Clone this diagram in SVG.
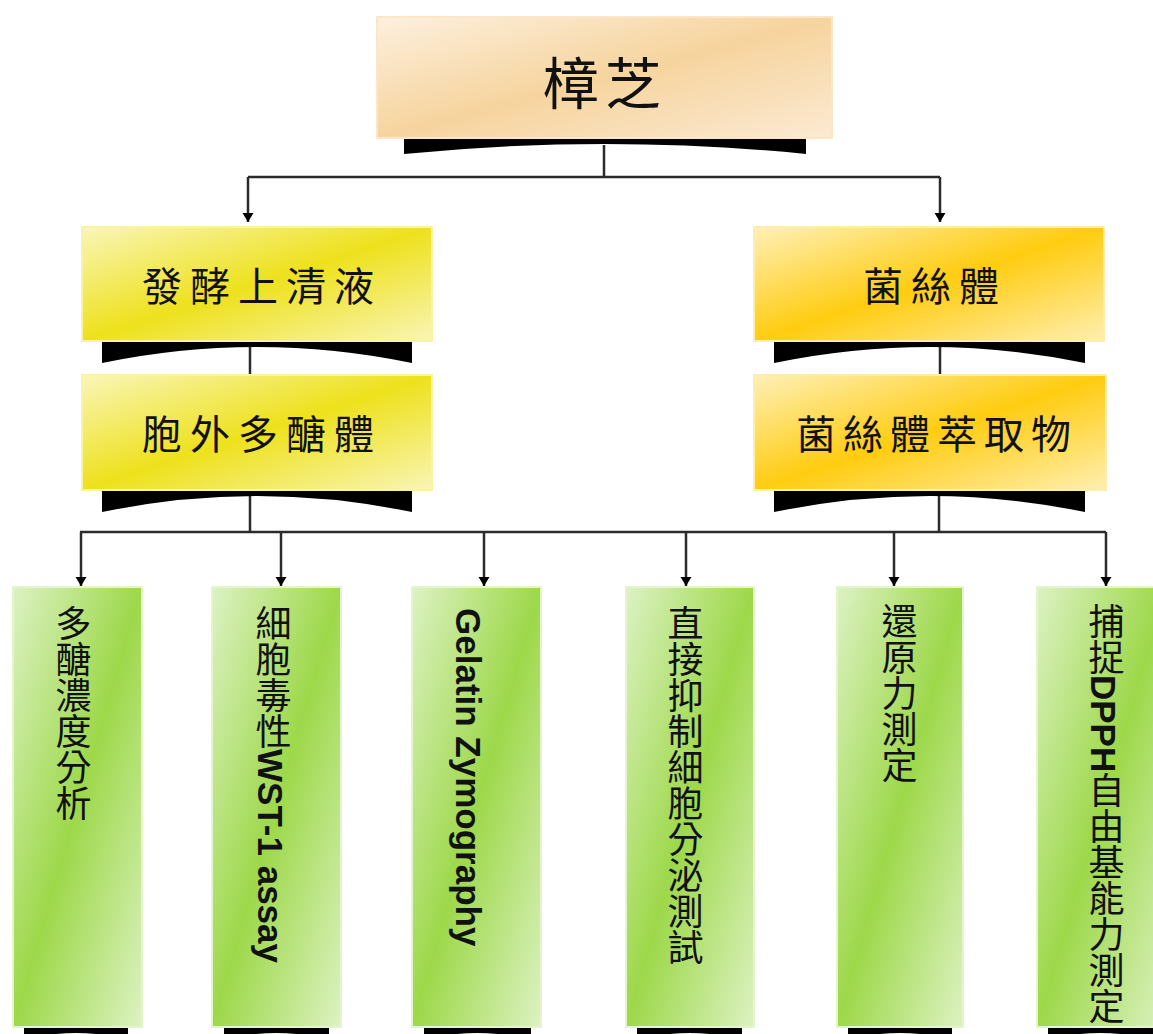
<svg xmlns="http://www.w3.org/2000/svg" width="1153" height="1034" viewBox="0 0 1153 1034">
  <style>
    .conn { fill: none; stroke: #2b2b2b; stroke-width: 2.5; }
    .arr { marker-end: url(#ah); }
    .shadow { fill: #000; }
    .box { stroke-width: 2; }
    .head { font-family: "Noto Sans CJK TC", "Noto Sans CJK SC", sans-serif; fill: #111; text-anchor: middle; dominant-baseline: central; }
    .vt { font-family: "Liberation Sans", "Noto Sans CJK TC", sans-serif; font-size: 36px; fill: #111; writing-mode: vertical-rl; text-orientation: mixed; }
    .lat { font-weight: bold; font-size: 35px; }
  </style>
  <defs>
    <linearGradient id="gPeach" x1="0" y1="0" x2="1" y2="1">
      <stop offset="0" stop-color="#FDF0DE"/>
      <stop offset="0.5" stop-color="#F6D49E"/>
      <stop offset="1" stop-color="#FCEAD2"/>
    </linearGradient>
    <linearGradient id="gYellow" x1="0" y1="0" x2="1" y2="1">
      <stop offset="0" stop-color="#F9F6B8"/>
      <stop offset="0.5" stop-color="#EEE11C"/>
      <stop offset="1" stop-color="#F9F5B4"/>
    </linearGradient>
    <linearGradient id="gOrange" x1="0" y1="0" x2="1" y2="1">
      <stop offset="0" stop-color="#FFF0B8"/>
      <stop offset="0.5" stop-color="#FFCC10"/>
      <stop offset="1" stop-color="#FFEFB0"/>
    </linearGradient>
    <linearGradient id="gGreen" x1="0" y1="0" x2="1" y2="1">
      <stop offset="0" stop-color="#DDF2C4"/>
      <stop offset="0.5" stop-color="#9DD84A"/>
      <stop offset="1" stop-color="#DDF2C2"/>
    </linearGradient>
    <marker id="ah" markerUnits="userSpaceOnUse" markerWidth="12" markerHeight="12" viewBox="0 -6 9 12" refX="9" refY="0" orient="auto">
      <path d="M0,-5.5 L9,0 L0,5.5 Z" fill="#000"/>
    </marker>
  </defs>

  <g id="connectors">
    <path class="conn" d="M604,145 V177 M248,177 H940"/>
    <path class="conn arr" d="M248,177 V222"/>
    <path class="conn arr" d="M940,177 V222"/>
    <path class="conn" d="M250,341 V375"/>
    <path class="conn" d="M940,341 V375"/>
    <path class="conn" d="M250,490 V532 M939,490 V532 M80,532 H1106"/>
    <path class="conn arr" d="M81,532 V586"/>
    <path class="conn arr" d="M281,532 V586"/>
    <path class="conn arr" d="M484,532 V586"/>
    <path class="conn arr" d="M686,532 V586"/>
    <path class="conn arr" d="M894,532 V586"/>
    <path class="conn arr" d="M1106,532 V586"/>
  </g>

  <g id="n-root">
    <path class="shadow" d="M404,138 H806 V154 Q605,134 404,154 Z"/>
    <rect class="box" x="377" y="17" width="455" height="121" fill="url(#gPeach)" stroke="#FBE6CA"/>
    <text class="head" x="605" y="79" font-size="56" letter-spacing="6">樟芝</text>
  </g>

  <g id="n-ferment">
    <path class="shadow" d="M102,341 H412 V363 Q257,331 102,363 Z"/>
    <rect class="box" x="82" y="227" width="350" height="114" fill="url(#gYellow)" stroke="#F8F3A8"/>
    <text class="head" x="262" y="284" font-size="40" letter-spacing="8">發酵上清液</text>
  </g>

  <g id="n-eps">
    <path class="shadow" d="M102,490 H412 V512 Q257,480 102,512 Z"/>
    <rect class="box" x="82" y="375" width="350" height="115" fill="url(#gYellow)" stroke="#F8F3A8"/>
    <text class="head" x="262" y="432" font-size="40" letter-spacing="8">胞外多醣體</text>
  </g>

  <g id="n-mycelium">
    <path class="shadow" d="M774,341 H1085 V363 Q930,331 774,363 Z"/>
    <rect class="box" x="754" y="227" width="350" height="114" fill="url(#gOrange)" stroke="#FFEDB0"/>
    <text class="head" x="935" y="284" font-size="40" letter-spacing="8">菌絲體</text>
  </g>

  <g id="n-extract">
    <path class="shadow" d="M774,490 H1085 V512 Q930,480 774,512 Z"/>
    <rect class="box" x="754" y="375" width="352" height="115" fill="url(#gOrange)" stroke="#FFEDB0"/>
    <text class="head" x="937" y="432" font-size="40" letter-spacing="7">菌絲體萃取物</text>
  </g>

  <g id="n-b1">
    <path class="shadow" d="M24,1027 H128 V1040 Q76,1026 24,1040 Z"/>
    <rect class="box" x="13" y="587" width="129" height="440" fill="url(#gGreen)" stroke="#E4F5CE"/>
    <text class="vt" x="70" y="605">多醣濃度分析</text>
  </g>

  <g id="n-b2">
    <path class="shadow" d="M224,1027 H329 V1040 Q276,1026 224,1040 Z"/>
    <rect class="box" x="212" y="587" width="129" height="440" fill="url(#gGreen)" stroke="#E4F5CE"/>
    <text class="vt" x="270" y="605">細胞毒性<tspan class="lat">WST-1 assay</tspan></text>
  </g>

  <g id="n-b3">
    <path class="shadow" d="M424,1027 H531 V1040 Q477,1026 424,1040 Z"/>
    <rect class="box" x="412" y="587" width="129" height="440" fill="url(#gGreen)" stroke="#E4F5CE"/>
    <text class="vt" x="468" y="608"><tspan class="lat">Gelatin Zymography</tspan></text>
  </g>

  <g id="n-b4">
    <path class="shadow" d="M637,1027 H742 V1040 Q690,1026 637,1040 Z"/>
    <rect class="box" x="626" y="587" width="128" height="440" fill="url(#gGreen)" stroke="#E4F5CE"/>
    <text class="vt" x="682" y="605">直接抑制細胞分泌測試</text>
  </g>

  <g id="n-b5">
    <path class="shadow" d="M848,1027 H952 V1040 Q900,1026 848,1040 Z"/>
    <rect class="box" x="837" y="587" width="126" height="440" fill="url(#gGreen)" stroke="#E4F5CE"/>
    <text class="vt" x="896" y="603">還原力測定</text>
  </g>

  <g id="n-b6">
    <path class="shadow" d="M1048,1027 H1153 V1040 Q1100,1026 1048,1040 Z"/>
    <rect class="box" x="1037" y="587" width="130" height="440" fill="url(#gGreen)" stroke="#E4F5CE"/>
    <text class="vt" x="1103" y="603">捕捉<tspan class="lat">DPPH</tspan>自由基能力測定</text>
  </g>
</svg>
